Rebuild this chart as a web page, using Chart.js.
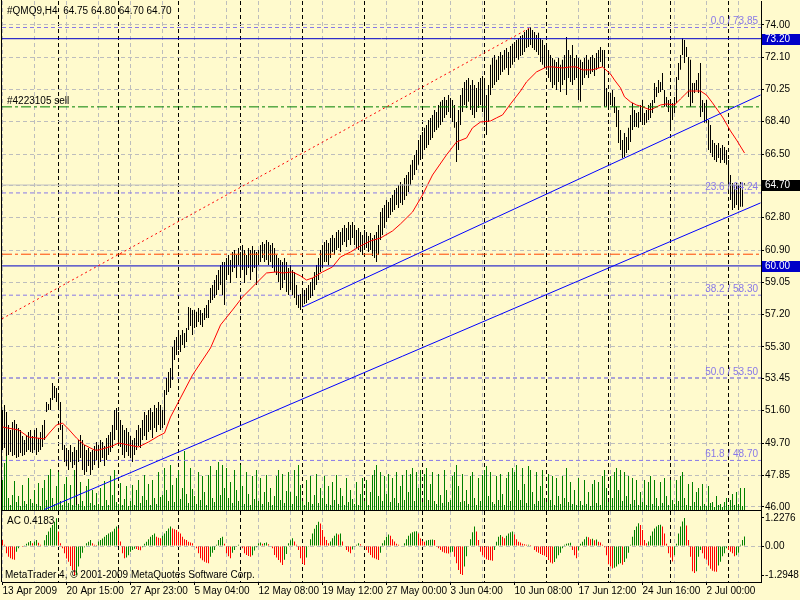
<!DOCTYPE html>
<html>
<head>
<meta charset="utf-8">
<script src="https://cdn.jsdelivr.net/npm/chart.js@4.4.1/dist/chart.umd.min.js"></script>
<style>
  html, body { margin: 0; padding: 0; background: #FFFACD; }
  #wrap { position: relative; width: 800px; height: 600px; overflow: hidden; background: #FFFACD; }
  #main { position: absolute; left: 0; top: 0; width: 800px; height: 520px; }
  #ac { position: absolute; left: 0; top: 511px; width: 800px; height: 89px; background: #FFFACD; }
  #lb { position: absolute; left: 1px; top: 0; width: 1px; height: 582px; background: #000; }
  canvas { display: block; }
</style>
</head>
<body>
<div id="wrap">
  <div id="main"><canvas id="cMain" width="800" height="520"></canvas></div>
  <div id="ac"><canvas id="cAc" width="800" height="89"></canvas></div>
  <div id="lb"></div>
</div>
<script>
// ---- data (one entry per bar) ----
const symbolName = '#QMQ9,H4';
const lastOHLC = [64.75, 64.80, 64.70, 64.70];

const highs = [
51.63,51.92,51.51,50.76,50.47,50.93,51.05,50.82,50.58,50.47,50.12,49.89,50.18,50.35,50.47,50.12,
50.47,50.58,50.00,50.35,50.76,51.05,52.09,51.98,52.33,53.20,53.02,52.91,52.62,52.09,50.76,49.60,
49.42,49.30,49.60,49.19,49.48,49.30,49.89,50.18,49.89,49.60,49.30,49.42,49.19,49.30,49.54,49.77,
49.60,49.89,49.77,49.54,50.00,50.18,50.35,50.76,51.63,51.75,51.51,51.05,50.76,50.47,50.58,50.35,
50.12,49.89,50.00,50.47,50.76,50.58,51.05,51.51,51.34,51.63,51.75,51.51,51.92,51.75,52.09,51.92,
51.63,52.79,53.49,53.84,54.07,55.29,55.70,55.87,56.16,55.99,56.28,56.10,56.39,57.61,57.56,57.44,
57.44,57.33,57.56,57.44,57.27,57.56,57.73,58.02,58.72,58.89,59.18,59.47,59.76,60.05,60.23,60.23,
60.46,60.64,60.35,60.81,60.93,60.64,61.04,60.81,61.22,60.93,60.64,61.04,60.93,61.16,60.93,60.81,
60.93,61.22,61.39,61.27,61.51,61.39,61.22,61.33,61.04,60.64,60.46,60.35,60.23,60.46,60.23,59.88,
60.05,59.76,59.65,58.89,58.31,58.37,58.49,58.60,58.72,58.89,59.07,59.30,59.65,60.05,60.46,60.93,
61.22,61.39,61.51,61.33,61.62,61.80,61.62,61.97,62.09,61.97,62.20,62.38,62.20,62.55,62.38,62.55,
62.38,62.09,62.20,61.97,61.80,62.09,61.97,61.74,61.91,61.62,61.80,61.97,62.38,63.13,63.37,63.54,
63.83,63.71,63.95,64.12,64.41,64.53,64.70,64.88,64.76,65.11,65.28,65.46,65.87,66.16,66.45,66.74,
67.32,67.61,67.78,68.02,68.19,68.48,68.60,68.77,69.06,68.94,69.35,69.53,69.64,69.82,69.64,69.93,
69.76,69.64,69.35,68.36,69.06,69.93,70.34,70.69,70.80,70.92,70.51,70.80,70.51,70.34,70.69,70.92,
71.04,70.80,69.93,70.51,71.68,72.08,72.26,71.97,72.20,72.43,72.26,72.55,72.66,72.43,72.78,72.90,
73.01,73.13,73.24,73.36,73.42,73.59,73.71,73.80,73.85,73.71,73.59,73.42,73.54,73.24,73.13,72.84,
72.84,72.55,72.26,72.08,71.97,71.85,72.08,71.68,71.97,72.26,73.30,72.55,72.26,72.84,72.08,72.26,
72.08,71.97,71.85,72.08,72.26,71.97,72.14,72.26,72.08,72.37,72.55,72.72,72.55,72.55,70.34,70.11,
70.05,70.22,69.82,69.24,69.06,67.90,67.32,67.72,67.49,68.02,68.77,69.47,69.06,68.89,68.94,69.35,
69.64,68.89,69.06,69.35,69.47,69.64,70.63,70.40,70.80,70.69,71.21,70.22,69.82,69.64,69.64,69.47,
69.82,70.98,71.79,72.26,73.22,73.13,72.72,72.14,71.97,70.63,70.63,70.80,71.21,71.79,69.64,69.47,
69.64,68.48,68.19,67.32,67.14,67.03,67.14,66.85,67.03,66.91,66.74,66.16,65.28,64.82,64.70,64.82,64.70,64.88,64.82,64.80
];

const lows = [
49.30,49.42,48.96,49.01,49.19,48.96,49.01,48.84,48.90,49.13,48.96,49.01,49.19,49.30,49.19,49.13,
49.30,49.01,49.19,49.30,49.48,49.89,51.51,51.63,51.63,52.21,52.33,52.09,51.75,50.47,49.30,48.61,
48.38,48.14,48.61,48.26,48.43,46.11,48.61,48.84,48.14,47.85,48.03,48.38,47.85,48.14,48.43,48.72,
48.26,48.61,48.84,48.38,48.72,49.01,49.19,49.42,49.89,50.47,49.60,49.48,49.01,48.84,49.19,48.96,
48.84,48.61,49.01,49.30,49.54,49.42,49.89,50.12,49.89,50.35,50.47,50.00,50.58,50.35,50.76,50.47,
50.58,50.76,52.50,52.67,52.91,53.37,54.53,54.83,55.12,55.00,55.41,55.23,55.58,56.28,56.51,55.99,
56.39,56.45,56.74,56.57,56.45,56.86,56.97,56.97,57.85,58.02,58.14,58.31,58.60,58.89,58.31,57.73,
59.18,59.47,59.01,59.65,59.88,59.30,60.05,59.47,59.76,59.01,59.47,59.88,59.18,59.65,59.88,58.89,
60.05,60.23,60.46,60.23,60.35,60.05,60.23,59.88,59.65,59.47,59.07,58.60,58.72,59.18,58.49,58.31,
58.60,58.31,58.14,57.73,57.56,57.44,57.61,57.79,57.85,58.02,58.14,58.25,58.60,58.89,59.18,59.65,
59.88,60.23,60.23,60.05,60.46,60.81,60.64,60.93,61.04,60.81,61.22,61.39,61.10,61.51,61.22,61.62,
61.22,61.04,60.93,60.81,60.64,60.93,61.04,60.81,60.93,60.58,60.46,60.23,60.64,61.51,61.80,62.20,
62.55,62.79,62.96,63.13,63.25,63.54,63.37,63.66,63.54,63.83,64.06,64.30,64.70,64.99,65.28,65.57,
65.87,66.16,66.27,66.74,66.85,67.03,67.32,67.43,67.78,67.90,68.02,68.19,68.36,68.60,68.77,68.94,
68.60,68.36,68.02,66.04,66.74,68.19,68.94,69.35,69.18,69.53,69.06,68.77,68.60,68.94,69.18,69.35,
68.94,68.19,67.61,68.36,69.93,70.34,70.51,70.69,70.80,71.09,71.27,71.39,71.50,71.09,71.50,71.68,
71.85,72.08,71.97,72.20,72.26,72.43,72.66,72.72,72.84,72.66,72.55,72.43,72.26,71.85,71.68,71.50,
71.39,70.92,70.69,70.34,70.51,70.22,70.69,70.11,70.51,70.80,69.93,70.92,70.69,70.51,70.80,70.92,
69.64,69.53,70.51,70.92,71.09,70.92,71.15,71.27,71.04,71.39,71.50,71.85,71.56,69.24,69.24,69.06,
69.35,69.24,68.89,68.07,67.14,66.74,66.27,66.33,66.56,66.74,67.20,67.90,68.07,68.07,68.02,68.36,
68.19,68.19,68.31,68.48,68.60,68.89,69.47,69.82,70.05,70.11,70.22,69.24,69.24,68.94,68.07,68.48,
68.89,69.47,70.80,71.39,72.26,71.79,72.14,69.82,69.24,69.47,70.05,70.22,70.05,68.65,68.94,68.31,
68.31,66.74,66.56,66.33,66.16,66.04,66.27,65.98,66.16,65.98,65.87,64.41,63.83,63.25,63.37,63.54,63.25,63.43,63.43,64.70
];

const volumes = [
30,47,69,12,5,15,29,8,14,4,25,9,6,32,11,7,
20,6,27,4,22,30,10,35,41,12,6,24,38,9,5,26,
33,7,25,5,40,14,6,28,9,4,24,31,7,20,5,17,
6,22,4,29,10,5,34,15,40,8,6,27,5,11,24,4,
9,25,5,20,30,7,14,35,10,26,5,30,12,6,38,13,
15,42,20,9,45,25,8,32,40,11,22,59,16,7,42,21,
14,6,38,10,34,18,5,35,44,12,8,40,48,15,45,22,
42,12,28,7,40,20,9,45,24,6,38,16,5,34,11,40,
9,32,6,18,35,8,22,5,14,34,40,10,36,7,19,38,
18,6,40,14,45,25,9,5,30,8,34,6,15,36,7,22,
12,34,6,24,5,28,10,35,6,22,14,5,32,8,20,11,
6,28,5,16,32,9,30,5,18,35,40,45,14,38,9,34,
16,36,8,32,12,38,7,24,35,10,40,18,36,42,9,38,
22,40,8,36,42,10,26,38,9,6,36,15,7,40,20,8,
10,34,38,45,24,8,36,9,20,6,34,38,12,5,32,9,
35,40,44,14,38,8,6,34,10,36,16,5,32,38,9,42,
38,45,20,10,42,26,7,44,40,18,6,38,9,24,40,12,
8,36,10,34,5,32,14,6,34,12,42,8,28,6,20,5,
32,9,5,30,6,18,4,26,30,7,28,5,34,40,22,8,
34,12,38,42,20,40,9,38,14,34,6,32,10,30,5,18,
8,30,5,28,34,6,30,12,4,28,7,32,14,5,30,10,
6,30,9,34,38,12,5,26,4,28,8,18,22,4,26,6,
4,24,7,8,3,14,5,6,3,8,12,4,10,16,5,18,6,22,4,22
];

const acValues = [
0.26,0.05,-0.32,-0.47,-0.54,-0.58,-0.60,-0.25,-0.10,-0.02,-0.04,0.01,0.10,0.16,0.22,0.12,
0.20,0.26,0.14,0.06,0.02,0.25,0.48,0.63,0.80,0.92,1.06,1.21,0.63,0.12,-0.10,-0.32,
-0.55,-0.69,-0.88,-1.05,-1.2948,-1.27,-0.90,-0.54,-0.30,-0.05,0.12,0.19,0.26,0.12,0.06,0.04,
0.20,0.26,0.33,0.41,0.48,0.55,0.60,0.63,0.75,0.85,0.77,0.20,-0.32,-0.54,-0.50,-0.40,
-0.25,-0.17,-0.12,-0.13,-0.17,-0.19,-0.05,0.10,0.19,0.30,0.41,0.48,0.55,0.41,0.36,0.34,
0.45,0.55,0.66,0.77,0.85,0.77,0.73,0.70,0.62,0.55,0.40,0.30,0.26,0.19,0.15,0.12,
0.02,-0.10,-0.32,-0.54,-0.62,-0.69,-0.73,-0.75,-0.47,-0.30,-0.17,0.05,0.26,0.35,0.41,0.10,
-0.32,-0.45,-0.54,-0.30,-0.17,-0.03,0.05,0.02,-0.10,-0.32,-0.39,-0.44,-0.47,-0.40,-0.20,-0.05,
0.12,0.15,0.10,0.13,0.15,0.08,0.02,-0.10,-0.39,-0.50,-0.61,-0.72,-0.83,-0.60,-0.35,0.12,
0.25,0.34,0.20,0.05,-0.17,-0.54,-0.76,-0.83,-0.50,-0.03,0.30,0.55,0.75,0.92,1.06,0.99,
0.70,0.40,0.26,0.12,0.20,0.34,0.45,0.55,0.50,0.55,0.20,0.02,-0.17,-0.25,-0.32,-0.15,
-0.03,0.05,0.12,0.08,0.02,-0.05,-0.17,-0.30,-0.39,-0.50,-0.54,-0.58,-0.61,-0.30,0.12,0.25,
0.41,0.50,0.45,0.30,0.20,0.10,0.05,0.02,-0.02,0.12,0.30,0.45,0.55,0.60,0.63,0.65,
0.55,0.33,0.22,0.19,0.24,0.26,0.27,0.28,0.26,-0.03,-0.10,-0.17,-0.25,-0.30,-0.32,-0.33,
-0.28,-0.25,-0.47,-0.75,-1.05,-1.22,-1.27,-0.90,-0.45,-0.03,0.30,0.60,0.85,0.63,0.26,-0.25,
-0.40,-0.50,-0.58,-0.61,-0.62,-0.64,-0.17,0.19,0.41,0.48,0.41,0.34,0.45,0.55,0.60,0.63,
0.50,0.30,0.19,0.15,0.10,0.08,0.05,0.06,0.04,0.00,-0.17,-0.25,-0.30,-0.35,-0.39,-0.42,
-0.47,-0.61,-0.72,-0.76,-0.70,-0.55,-0.40,-0.30,-0.10,0.05,0.10,0.12,0.14,-0.17,-0.40,-0.54,
-0.20,0.10,0.19,0.30,0.41,0.38,0.30,0.32,0.25,0.28,0.19,0.15,0.05,-0.05,-0.40,-0.80,
-0.90,-0.98,-0.95,-0.90,-0.80,-0.75,-0.82,-0.70,-0.55,-0.30,0.05,0.41,0.70,0.85,1.00,0.92,
0.70,0.26,0.12,0.20,0.45,0.63,0.77,0.85,0.92,0.93,0.85,0.55,0.10,-0.32,-0.50,-0.68,
-0.40,0.10,0.55,0.85,1.07,1.2276,0.90,0.26,-0.47,-1.10,-1.18,-1.10,-0.47,-0.17,-0.32,-0.55,
-0.60,-0.85,-1.00,-1.08,-1.12,-1.13,-0.85,-0.69,-0.45,-0.32,-0.10,-0.17,-0.25,-0.32,-0.45,-0.40,-0.30,0.05,0.26,0.4183
];

// moving average, read at these bars
const maBars = [0,8,13,21,23,27,30,33,37,41,46,48,55,58,63,68,73,78,81,84,89,95,104,109,115,120,127,132,137,140,
  145,149,152,155,160,165,169,174,179,184,189,195,199,205,210,215,222,227,232,235,239,244,247,250,254,259,262,267,272,275,
  280,284,287,290,295,300,304,306,309,311,314,317,320,324,326,329,332,336,339,341,343,345,349,352,355,360,364,367,371];
const maValues = [50.64,50.47,50.06,49.95,50.24,50.76,50.87,50.52,50.00,49.60,49.30,49.30,49.54,49.71,49.60,49.48,49.77,50.12,50.29,51.22,
  52.33,53.66,55.23,56.57,57.44,58.19,59.01,59.59,59.65,59.59,59.65,59.42,59.18,59.30,59.65,59.94,60.52,60.81,61.16,61.45,
  61.62,62.03,62.44,63.13,64.12,65.28,66.45,67.20,67.43,68.02,68.36,68.42,68.60,68.77,69.41,70.16,70.69,71.27,71.56,71.56,
  71.50,71.56,71.56,71.39,71.39,71.56,71.15,70.80,70.34,69.82,69.53,69.35,69.24,69.06,69.18,69.35,69.41,69.35,69.70,69.93,
  70.16,70.16,70.16,69.93,69.47,68.65,67.84,67.32,66.56];

// axis labels and objects
const priceTicks = [74.00,72.10,70.25,68.40,66.50,64.65,62.80,60.90,59.05,57.20,55.30,53.45,51.60,49.70,47.85,46.00];
const acTicks = [1.2276, 0, -1.2948];
const timeLabels = ['13 Apr 2009','20 Apr 15:00','27 Apr 23:00','5 May 04:00','12 May 08:00','19 May 12:00',
  '27 May 00:00','3 Jun 04:00','10 Jun 08:00','17 Jun 12:00','24 Jun 16:00','2 Jul 00:00'];
const weekStarts = [28,58,88,119,150,181,210,241,272,303,334,363];
const fibLevels = [0.0, 23.6, 38.2, 50.0, 61.8];
const fibPrices = [73.85, 64.24, 58.30, 53.50, 48.70];
const hLevels = [73.20, 69.24, 64.70, 60.68, 60.00];
const orderLabel = '#4223105 sell';
const trendUpperBars = [150, 379];
const trendUpperPrices = [57.61, 69.93];
const trendLowerBars = [21, 379];
const trendLowerPrices = [45.85, 63.66];
const channelBars = [-0.25, 264];
const channelPrices = [56.93, 73.85];

// ---- styles ----
const FONT = '"Liberation Sans", Arial, sans-serif';
const GRID = '#BDBDBD';
const GREEN = '#008000';
const RED = '#FF0000';
const FIB = '#8878E8';
const NAVY = '#0000C8';
const X_MIN = -0.25, X_MAX = 379.25;
const Y_MIN = 45.82, Y_MAX = 75.39;
const hStyles = [
  { color: NAVY, dash: [] },
  { color: GREEN, dash: [10, 3, 3, 3] },
  { color: '#C0C0C0', dash: [] },
  { color: '#FF4500', dash: [10, 3, 3, 3] },
  { color: NAVY, dash: [] }
];

Chart.defaults.font.family = FONT;
Chart.defaults.font.size = 10;
Chart.defaults.color = '#000';

function gridEvery16(axis) {
  const t = [];
  for (let v = 0; v <= X_MAX; v += 16) t.push({ value: v });
  axis.ticks = t;
}

function sepAxis() {
  return {
    type: 'linear', min: X_MIN, max: X_MAX, position: 'bottom', offset: false,
    afterBuildTicks: a => { a.ticks = weekStarts.map(v => ({ value: v })); },
    ticks: { display: false },
    grid: { color: '#000', drawTicks: false, offset: false },
    border: { display: false, dash: [4, 3] },
    afterFit: a => { a.height = 0; a.paddingLeft = 0; a.paddingRight = 0; }
  };
}

function line(points, color, dash, order) {
  return {
    type: 'line', data: points, borderColor: color, borderWidth: 1,
    borderDash: dash, pointRadius: 0, fill: false, tension: 0, order: order
  };
}

const mainText = {
  id: 'mainText',
  afterDraw(chart) {
    const ctx = chart.ctx;
    const y = chart.scales.y;
    ctx.save();
    ctx.font = '10px ' + FONT;
    ctx.textAlign = 'left';
    ctx.textBaseline = 'middle';
    ctx.fillStyle = '#000';
    ctx.fillText(symbolName + '  ' + lastOHLC.map(v => v.toFixed(2)).join(' '), 7, 11);
    ctx.textBaseline = 'bottom';
    ctx.fillText(orderLabel, 7, y.getPixelForValue(hLevels[1]) - 1);
    ctx.fillStyle = FIB;
    ctx.textAlign = 'right';
    fibLevels.forEach((lv, k) => {
      ctx.fillText(lv.toFixed(1) + ' / ' + fibPrices[k].toFixed(2), 758, y.getPixelForValue(fibPrices[k]) - 1);
    });
    const boxes = [[hLevels[0], NAVY], [lastOHLC[3], '#000'], [hLevels[4], NAVY]];
    ctx.textAlign = 'left';
    ctx.textBaseline = 'middle';
    boxes.forEach(([v, bg]) => {
      const py = y.getPixelForValue(v);
      ctx.fillStyle = bg;
      ctx.fillRect(762, Math.round(py) - 5, 38, 11);
      ctx.fillStyle = '#FFF';
      ctx.fillText(v.toFixed(2), 765, Math.round(py) + 0.5);
    });
    ctx.restore();
  }
};

const mainDatasets = [
  { type: 'bar', yAxisID: 'yVol', data: volumes.map((v, i) => ({ x: i, y: v })),
    backgroundColor: GREEN, barThickness: 1, borderWidth: 0, grouped: false, inflateAmount: 0, order: 10 },
  ...fibPrices.map(p => line([{ x: X_MIN, y: p }, { x: X_MAX, y: p }], FIB, [4, 3], 9)),
  { type: 'bar', data: highs.map((h, i) => ({ x: i, y: [lows[i], h] })),
    backgroundColor: '#000', barThickness: 1, borderWidth: 0, grouped: false, inflateAmount: 0, minBarLength: 1, order: 6 },
  line(maBars.map((b, k) => ({ x: b, y: maValues[k] })), RED, [], 5),
  ...hLevels.map((p, k) => line([{ x: X_MIN, y: p }, { x: X_MAX, y: p }], hStyles[k].color, hStyles[k].dash, 4)),
  line(trendUpperBars.map((b, k) => ({ x: b, y: trendUpperPrices[k] })), '#0000FF', [], 3),
  line(trendLowerBars.map((b, k) => ({ x: b, y: trendLowerPrices[k] })), '#0000FF', [], 3),
  line(channelBars.map((b, k) => ({ x: b, y: channelPrices[k] })), RED, [2, 3], 3)
];

new Chart(document.getElementById('cMain'), {
  type: 'bar',
  data: { datasets: mainDatasets },
  options: {
    responsive: false, animation: false, events: [],
    layout: { padding: { left: 2, top: 1, right: 0, bottom: 10 } },
    plugins: { legend: { display: false }, tooltip: { enabled: false } },
    scales: {
      x: {
        type: 'linear', min: X_MIN, max: X_MAX, offset: false, bounds: 'data',
        afterBuildTicks: gridEvery16,
        ticks: { display: false },
        grid: { color: GRID, drawTicks: false, offset: false },
        border: { display: true, color: '#000', dash: [4, 3] },
        afterFit: a => { a.height = 0; a.paddingLeft = 0; a.paddingRight = 0; }
      },
      xSep: sepAxis(),
      y: {
        type: 'linear', position: 'right', min: Y_MIN, max: Y_MAX, beginAtZero: false, bounds: 'data',
        afterBuildTicks: a => { a.ticks = priceTicks.map(v => ({ value: v })); },
        ticks: { color: '#000', padding: 1, font: { size: 10 }, callback: v => Number(v).toFixed(2) },
        grid: { color: GRID, tickColor: '#000', tickLength: 3 },
        border: { display: true, color: '#000', dash: [4, 3] },
        afterFit: a => { a.width = 39; a.paddingTop = 0; a.paddingBottom = 0; }
      },
      yVol: { type: 'linear', display: false, min: 0, max: 509, beginAtZero: true }
    }
  },
  plugins: [mainText]
});

const acText = {
  id: 'acText',
  afterDraw(chart) {
    const ctx = chart.ctx;
    ctx.save();
    ctx.font = '10px ' + FONT;
    ctx.fillStyle = '#000';
    ctx.textAlign = 'left';
    ctx.textBaseline = 'middle';
    ctx.fillText('AC ' + acValues[acValues.length - 1].toFixed(4), 7, 10);
    ctx.fillText('MetaTrader 4, \u00A9 2001-2009 MetaQuotes Software Corp.', 5, 64);
    ctx.restore();
  }
};

new Chart(document.getElementById('cAc'), {
  type: 'bar',
  data: {
    datasets: [{
      data: acValues.map((v, i) => ({ x: i, y: v })),
      backgroundColor: acValues.map((v, i) => (i > 0 && v > acValues[i - 1]) ? GREEN : RED),
      barThickness: 1, borderWidth: 0, grouped: false, inflateAmount: 0
    }]
  },
  options: {
    responsive: false, animation: false, events: [],
    layout: { padding: { left: 2, top: 0, right: 0, bottom: 0 } },
    plugins: { legend: { display: false }, tooltip: { enabled: false } },
    scales: {
      x: {
        type: 'linear', min: X_MIN, max: X_MAX, offset: false, bounds: 'data',
        afterBuildTicks: gridEvery16,
        ticks: {
          autoSkip: false, maxRotation: 0, minRotation: 0, align: 'start', padding: 0, color: '#000',
          callback: v => (v % 32 === 0 ? timeLabels[v / 32] : '')
        },
        grid: {
          color: GRID, offset: false, tickLength: 3,
          tickColor: c => (c.tick && c.tick.value % 32 === 0 ? '#000' : 'rgba(0,0,0,0)')
        },
        border: { display: true, color: '#000', dash: [4, 3] },
        afterFit: a => { a.height = 18; a.paddingLeft = 0; a.paddingRight = 0; }
      },
      xSep: sepAxis(),
      y: {
        type: 'linear', position: 'right', min: -1.575, max: 1.532, beginAtZero: false, bounds: 'data',
        afterBuildTicks: a => { a.ticks = acTicks.map(v => ({ value: v })); },
        ticks: { color: '#000', padding: 1, callback: v => (v === 0 ? '0.00' : Number(v).toFixed(4)) },
        grid: {
          color: c => (c.tick && c.tick.value === 0 ? GRID : 'rgba(0,0,0,0)'),
          tickColor: '#000', tickLength: 3
        },
        border: { display: true, color: '#000', dash: [4, 3] },
        afterFit: a => { a.width = 39; a.paddingTop = 0; a.paddingBottom = 0; }
      }
    }
  },
  plugins: [acText]
});
</script>
</body>
</html>
